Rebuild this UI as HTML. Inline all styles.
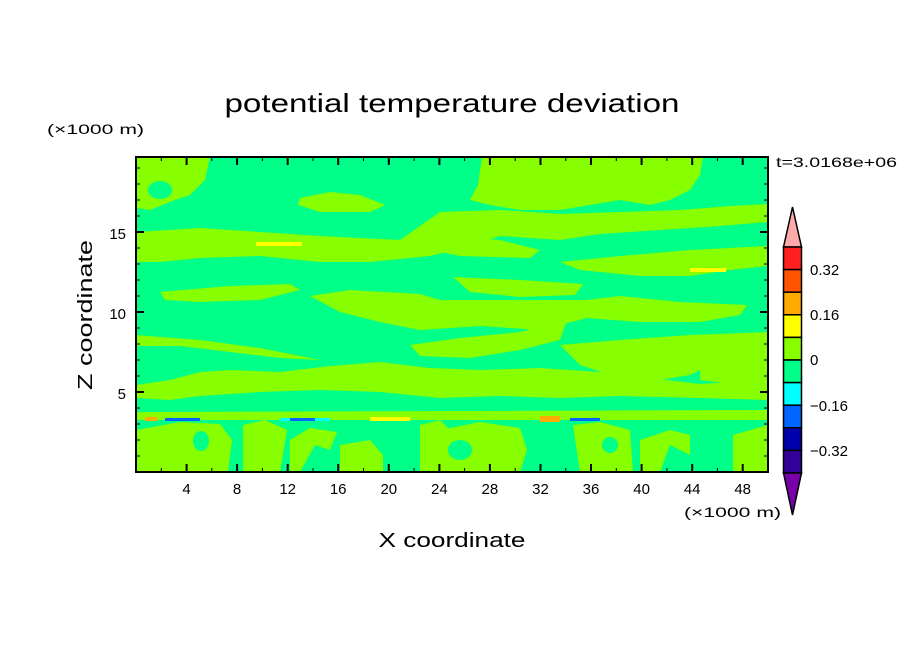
<!DOCTYPE html>
<html><head><style>body{margin:0;background:#fff}svg{display:block}</style></head><body>
<svg width="904" height="654" xmlns="http://www.w3.org/2000/svg" font-family="Liberation Sans, sans-serif">
<rect width="904" height="654" fill="#fff"/>
<text x="452" y="112" font-size="26" text-anchor="middle" textLength="455" lengthAdjust="spacingAndGlyphs">potential temperature deviation</text>
<text x="47" y="134" font-size="14" textLength="97" lengthAdjust="spacingAndGlyphs">(×1000 m)</text>
<text x="776" y="167" font-size="14" textLength="121" lengthAdjust="spacingAndGlyphs">t=3.0168e+06</text>
<clipPath id="c"><rect x="136" y="157" width="632" height="315"/></clipPath>
<g clip-path="url(#c)">
<rect x="136" y="157" width="632" height="315" fill="#00ff88"/>
<g fill="#88ff00">
<path d="M136 157 L210 157 L205 180 L190 195 L175 200 L150 210 L136 208Z"/>
<path d="M482 157 L703 157 L700 175 L690 190 L670 200 L650 205 L620 200 L590 205 L560 210 L520 210 L490 205 L470 200 L478 185Z"/>
<path d="M300 198 L330 192 L360 195 L385 205 L370 212 L320 212 L298 205Z"/>
<path d="M136 232 L200 228 L260 232 L320 236 L400 240 L440 212 L500 210 L560 214 L620 212 L680 210 L730 206 L768 204 L768 222 L720 226 L660 230 L600 234 L560 240 L500 236 L470 246 L430 256 L370 262 L320 262 L260 256 L200 258 L160 262 L136 262Z"/>
<path d="M440 236 L500 240 L540 250 L530 258 L460 256 L440 252Z"/>
<path d="M560 262 L620 256 L690 250 L768 246 L768 266 L730 270 L690 276 L640 276 L580 270Z"/>
<path d="M160 292 L230 286 L290 284 L300 290 L260 300 L200 302 L165 300Z"/>
<path d="M453 277 L520 280 L583 284 L575 295 L520 297 L470 292Z"/>
<path d="M310 296 L350 290 L420 294 L440 300 L500 300 L587 300 L620 296 L680 302 L747 305 L740 315 L700 322 L640 322 L587 318 L540 330 L480 326 L420 330 L380 322 L340 312Z"/>
<path d="M136 335 L200 340 L260 348 L300 356 L320 360 L280 358 L230 352 L180 346 L136 346Z"/>
<path d="M410 345 L460 338 L520 332 L567 320 L560 340 L520 350 L470 358 L420 356Z"/>
<path d="M560 345 L620 340 L690 335 L768 332 L768 345 L720 360 L690 375 L660 380 L620 378 L580 365Z"/>
<path d="M700 350 L768 345 L768 383 L740 385 L700 380Z"/>
<path d="M136 385 L170 380 L200 372 L230 370 L280 372 L330 366 L380 362 L430 368 L480 370 L540 368 L600 372 L650 378 L700 384 L768 380 L768 400 L700 398 L620 396 L560 398 L500 396 L440 398 L380 392 L320 390 L260 392 L200 396 L170 400 L136 398Z"/>
<path d="M136 412 L768 410 L768 420 L136 420Z"/>
<path d="M136 430 L180 422 L220 424 L232 440 L228 472 L136 472Z"/>
<path d="M243 425 L265 420 L287 430 L280 472 L243 472Z"/>
<path d="M290 440 L310 428 L337 432 L330 450 L315 445 L300 472 L290 472Z"/>
<path d="M340 445 L370 440 L383 455 L383 472 L340 472Z"/>
<path d="M420 425 L440 420 L450 430 L450 472 L420 472Z"/>
<path d="M440 430 L480 422 L520 428 L527 450 L520 472 L440 472Z"/>
<path d="M573 425 L600 422 L630 430 L633 472 L580 472Z"/>
<path d="M640 440 L670 430 L690 435 L690 455 L670 445 L660 472 L640 472Z"/>
<path d="M733 435 L768 425 L768 472 L733 472Z"/>
</g>
<g fill="#00ff88"><ellipse cx="201" cy="441" rx="8" ry="10"/><ellipse cx="160" cy="190" rx="12" ry="9"/><ellipse cx="460" cy="450" rx="12" ry="10"/><ellipse cx="610" cy="445" rx="8" ry="8"/></g>
<rect x="256" y="242" width="46" height="4" fill="#ffff00"/>
<rect x="690" y="268" width="36" height="4" fill="#ffff00"/>
<rect x="370" y="417" width="40" height="4" fill="#ffff00"/>
<rect x="540" y="416" width="20" height="6" fill="#ffaa00"/>
<rect x="145" y="417" width="12" height="4" fill="#ffaa00"/>
<rect x="165" y="418" width="35" height="3" fill="#0066ff"/>
<rect x="280" y="418" width="50" height="3" fill="#00ffff"/>
<rect x="290" y="418" width="25" height="3" fill="#0066ff"/>
<rect x="570" y="418" width="30" height="3" fill="#0066ff"/>
</g>
<rect x="136" y="157" width="632" height="315" fill="none" stroke="#000" stroke-width="2"/>
<g stroke="#000" stroke-width="2">
<path d="M186.6 472v-8M237.1 472v-8M287.7 472v-8M338.2 472v-8M388.8 472v-8M439.4 472v-8M489.9 472v-8M540.5 472v-8M591 472v-8M641.6 472v-8M692.2 472v-8M742.7 472v-8"/>
<path d="M186.6 157v8M237.1 157v8M287.7 157v8M338.2 157v8M388.8 157v8M439.4 157v8M489.9 157v8M540.5 157v8M591 157v8M641.6 157v8M692.2 157v8M742.7 157v8"/>
<path d="M136 392h8M136 312h8M136 232h8M768 392h-8M768 312h-8M768 232h-8"/>
</g>
<g stroke="#000" stroke-width="1">
<path d="M161.3 472v-4M211.8 472v-4M262.4 472v-4M313 472v-4M363.5 472v-4M414.1 472v-4M464.6 472v-4M515.2 472v-4M565.8 472v-4M616.3 472v-4M666.9 472v-4M717.4 472v-4M161.3 157v4M211.8 157v4M262.4 157v4M313 157v4M363.5 157v4M414.1 157v4M464.6 157v4M515.2 157v4M565.8 157v4M616.3 157v4M666.9 157v4M717.4 157v4"/>
<path d="M136 456h4M136 440h4M136 424h4M136 408h4M136 376h4M136 360h4M136 344h4M136 328h4M136 296h4M136 280h4M136 264h4M136 248h4M136 216h4M136 200h4M136 184h4M136 168h4M768 456h-4M768 440h-4M768 424h-4M768 408h-4M768 376h-4M768 360h-4M768 344h-4M768 328h-4M768 296h-4M768 280h-4M768 264h-4M768 248h-4M768 216h-4M768 200h-4M768 184h-4M768 168h-4"/>
</g>
<g font-size="15" text-anchor="middle">
<text x="186.6" y="494">4</text><text x="237.1" y="494">8</text><text x="287.7" y="494">12</text><text x="338.2" y="494">16</text><text x="388.8" y="494">20</text><text x="439.4" y="494">24</text><text x="489.9" y="494">28</text><text x="540.5" y="494">32</text><text x="591" y="494">36</text><text x="641.6" y="494">40</text><text x="692.2" y="494">44</text><text x="742.7" y="494">48</text>
</g>
<g font-size="15" text-anchor="end">
<text x="126" y="399">5</text><text x="126" y="319">10</text><text x="126" y="239">15</text>
</g>
<text x="684" y="517" font-size="14" textLength="97" lengthAdjust="spacingAndGlyphs">(×1000 m)</text>
<text x="452" y="547" font-size="20" text-anchor="middle" textLength="147" lengthAdjust="spacingAndGlyphs">X coordinate</text>
<text transform="translate(92,315) rotate(-90)" font-size="20" text-anchor="middle" textLength="150" lengthAdjust="spacingAndGlyphs">Z coordinate</text>
<g stroke="#000" stroke-width="1.5">
<path d="M783.5 247 L792.5 207 L801.5 247Z" fill="#ffaaaa"/>
<rect x="783.5" y="247" width="18" height="22.6" fill="#ff2020"/>
<rect x="783.5" y="269.6" width="18" height="22.6" fill="#ff5500"/>
<rect x="783.5" y="292.2" width="18" height="22.6" fill="#ffaa00"/>
<rect x="783.5" y="314.8" width="18" height="22.6" fill="#ffff00"/>
<rect x="783.5" y="337.4" width="18" height="22.6" fill="#88ff00"/>
<rect x="783.5" y="360" width="18" height="22.6" fill="#00ff88"/>
<rect x="783.5" y="382.6" width="18" height="22.6" fill="#00ffff"/>
<rect x="783.5" y="405.2" width="18" height="22.6" fill="#0066ff"/>
<rect x="783.5" y="427.8" width="18" height="22.6" fill="#0000aa"/>
<rect x="783.5" y="450.4" width="18" height="22.6" fill="#330099"/>
<path d="M783.5 473 L792.5 515 L801.5 473Z" fill="#7700aa"/>
</g>
<g font-size="15">
<text x="810" y="275">0.32</text><text x="810" y="320">0.16</text><text x="810" y="365">0</text><text x="810" y="411">−0.16</text><text x="810" y="456">−0.32</text>
</g>
</svg>
</body></html>
